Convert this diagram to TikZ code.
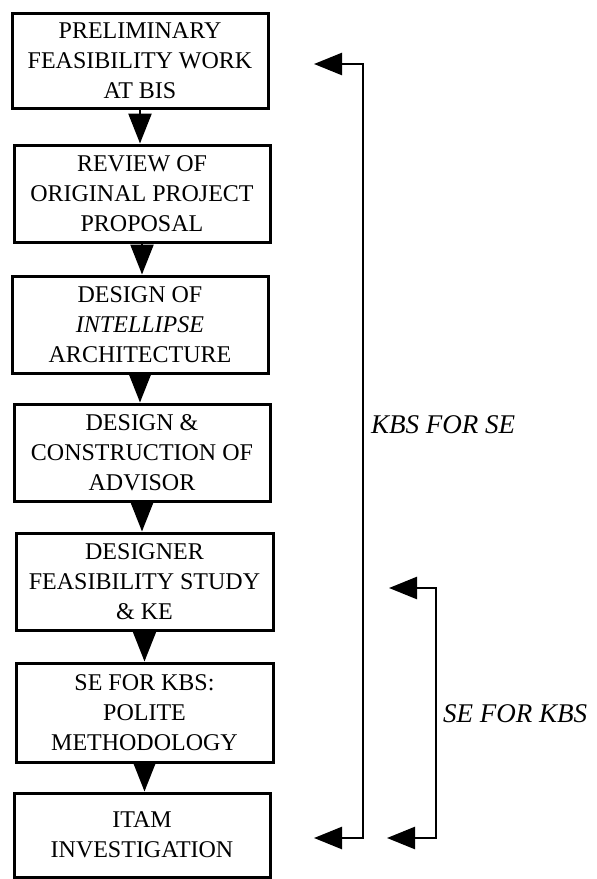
\documentclass[tikz,border=0pt]{standalone}
\usepackage{fontspec}
\setmainfont{Liberation Serif}
\usetikzlibrary{arrows.meta}
\begin{document}
\begin{tikzpicture}[x=1pt,y=-1pt,
  stage/.style={draw, line width=3pt, inner sep=0pt, align=center,
    font=\fontsize{24}{30}\selectfont},
  flow/.style={line width=2.5pt, -{Triangle[length=30pt,width=23pt]}},
  span/.style={line width=2.5pt, {Triangle[length=28pt,width=22pt]}-{Triangle[length=28pt,width=22pt]}},
  tag/.style={anchor=base west, inner sep=0pt, font=\fontsize{27}{30}\selectfont\itshape}]
\useasboundingbox (0,0) rectangle (597,879);

% stages of the project
\node[stage, minimum width=256pt, minimum height=95pt] (b1) at (140,60.5)
  {PRELIMINARY\\FEASIBILITY WORK\\AT BIS};
\node[stage, minimum width=256pt, minimum height=97pt] (b2) at (142,193.5)
  {REVIEW OF\\ORIGINAL PROJECT\\PROPOSAL};
\node[stage, minimum width=256pt, minimum height=97pt] (b3) at (140,324.5)
  {DESIGN OF\\\textit{INTELLIPSE}\\ARCHITECTURE};
\node[stage, minimum width=256pt, minimum height=97pt] (b4) at (142,452.5)
  {DESIGN \&\\CONSTRUCTION OF\\ADVISOR};
\node[stage, minimum width=257pt, minimum height=97pt] (b5) at (144.5,581.5)
  {DESIGNER\\FEASIBILITY STUDY\\\& KE};
\node[stage, minimum width=257pt, minimum height=99pt] (b6) at (144.5,712.5)
  {SE FOR KBS:\\POLITE\\METHODOLOGY};
\node[stage, minimum width=256pt, minimum height=84pt] (b7) at (142,835)
  {ITAM\\INVESTIGATION};

% sequence arrows
\foreach \a/\b in {b1/b2,b2/b3,b3/b4,b4/b5,b5/b6,b6/b7}
  \draw[flow] (\a.south) -- (\a.south |- \b.north);

% scope brackets
\coordinate (k1) at (314,64);
\coordinate (k2) at (314,838);
\coordinate (s1) at (389,588);
\coordinate (s2) at (387,838);
\draw[span] (k1) -- (363,64) -- (363,838) -- (k2);
\draw[span] (s1) -- (436,588) -- (436,838) -- (s2);

\node[tag] (kbs) at (371,433) {KBS FOR SE};
\node[tag] (se) at (443,722) {SE FOR KBS};
\end{tikzpicture}
\end{document}
